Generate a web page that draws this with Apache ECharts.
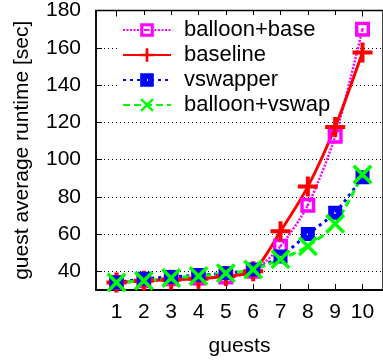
<!DOCTYPE html>
<html>
<head>
<meta charset="utf-8">
<script src="https://cdn.jsdelivr.net/npm/echarts@6/dist/echarts.min.js"></script>
<style>html,body{margin:0;padding:0;background:#fff}#c{width:383px;height:364px}</style>
</head>
<body>
<div id="c"></div>
<script>
const guests = [1, 2, 3, 4, 5, 6, 7, 8, 9, 10];
const balloonBase = [34, 35, 36, 36.5, 37, 40, 53.5, 75.5, 112.5, 170];
const baseline = [34, 35, 35.5, 36, 37.5, 40, 61.5, 85.5, 117.5, 157.5];
const vswapper = [34, 36, 37, 38, 39, 41, 48, 60, 71.5, 90.5];
const balloonVswap = [34, 35, 36.5, 37.5, 39, 41, 46.5, 53.5, 65.5, 92];
const yTicks = [40, 60, 80, 100, 120, 140, 160, 180];

const pairs = a => guests.map((g, i) => [g, a[i]]);
const FONT = 'Liberation Sans';

const chart = echarts.init(document.getElementById('c'), null, {renderer: 'canvas'});
chart.setOption({
  animation: false,
  backgroundColor: '#fff',
  grid: {left: 96, right: -6, top: 10, bottom: 74, show: true, borderColor: '#000', borderWidth: 1.5, backgroundColor: 'transparent'},
  legend: {
    z: 1,
    left: 117, top: 15,
    orient: 'vertical',
    itemWidth: 48, itemHeight: 17, itemGap: 3,
    padding: [4, 22, 6, 5],
    backgroundColor: '#fff',
    textStyle: {fontFamily: FONT, fontSize: 22, lineHeight: 20, color: '#000', padding: [0, 0, 0, 8]},
    data: ['balloon+base', 'baseline', 'vswapper', 'balloon+vswap']
  },
  xAxis: [{
    type: 'value', min: 0.25, max: 10.75, z: 0,
    name: 'guests', nameLocation: 'middle', nameGap: 46,
    nameTextStyle: {fontFamily: FONT, fontSize: 21, color: '#000'},
    axisLine: {show: true, lineStyle: {color: '#000', width: 2}},
    axisTick: {show: true, inside: true, length: 6, customValues: guests, lineStyle: {color: '#000', width: 1}},
    axisLabel: {customValues: guests, fontFamily: FONT, fontSize: 21, color: '#000', margin: 12},
    splitLine: {show: false}
  }, {
    type: 'value', min: 0.25, max: 10.75, position: 'top', z: 0,
    axisLine: {show: false},
    axisTick: {show: true, inside: true, length: 6, customValues: guests, lineStyle: {color: '#000', width: 1}},
    axisLabel: {show: false},
    splitLine: {show: false}
  }],
  yAxis: {
    type: 'value', min: 30, max: 180, z: 0,
    name: 'guest average runtime [sec]', nameLocation: 'middle', nameGap: 63, nameRotate: 90,
    nameTextStyle: {fontFamily: FONT, fontSize: 21, color: '#000'},
    axisLine: {show: true, lineStyle: {color: '#000', width: 1.5}},
    axisTick: {show: true, inside: true, length: 6, customValues: yTicks, lineStyle: {color: '#000', width: 1}},
    axisLabel: {customValues: yTicks, fontFamily: FONT, fontSize: 21, color: '#000', margin: 15},
    splitLine: {show: true, lineStyle: {color: '#000', width: 1, type: [1, 3]}}
  },
  series: [{
    name: 'balloon+base', type: 'line', z: 2, data: pairs(balloonBase), smooth: 0.25,
    symbol: 'path://M0,0H14V14H0Z M3.2,3.2V10.8H10.8V3.2Z M6,6H8V8H6Z', symbolSize: 15,
    itemStyle: {color: '#ff00ff'},
    lineStyle: {color: '#ff00ff', width: 2.5, type: [2, 1.5]}
  }, {
    name: 'baseline', type: 'line', z: 2, data: pairs(baseline), smooth: 0.25,
    symbol: 'path://M8,0H12V8H20V12H12V20H8V12H0V8H8Z', symbolSize: 20,
    itemStyle: {color: '#ff0000'},
    lineStyle: {color: '#ff0000', width: 3}
  }, {
    name: 'vswapper', type: 'line', z: 2, data: pairs(vswapper), smooth: 0.25,
    symbol: 'path://M0,0H14V14H0Z M6,6V8H8V6Z', symbolSize: 14,
    itemStyle: {color: '#0000ff'},
    lineStyle: {color: '#0000ff', width: 3, type: [3, 4]}
  }, {
    name: 'balloon+vswap', type: 'line', z: 2, data: pairs(balloonVswap), smooth: 0.25,
    symbol: 'path://M0,2.5L2.5,0L10,7.5L17.5,0L20,2.5L12.5,10L20,17.5L17.5,20L10,12.5L2.5,20L0,17.5L7.5,10Z', symbolSize: 20,
    itemStyle: {color: '#00ff00'},
    lineStyle: {color: '#00ff00', width: 3, type: [7, 4]}
  }]
});
</script>
</body>
</html>
